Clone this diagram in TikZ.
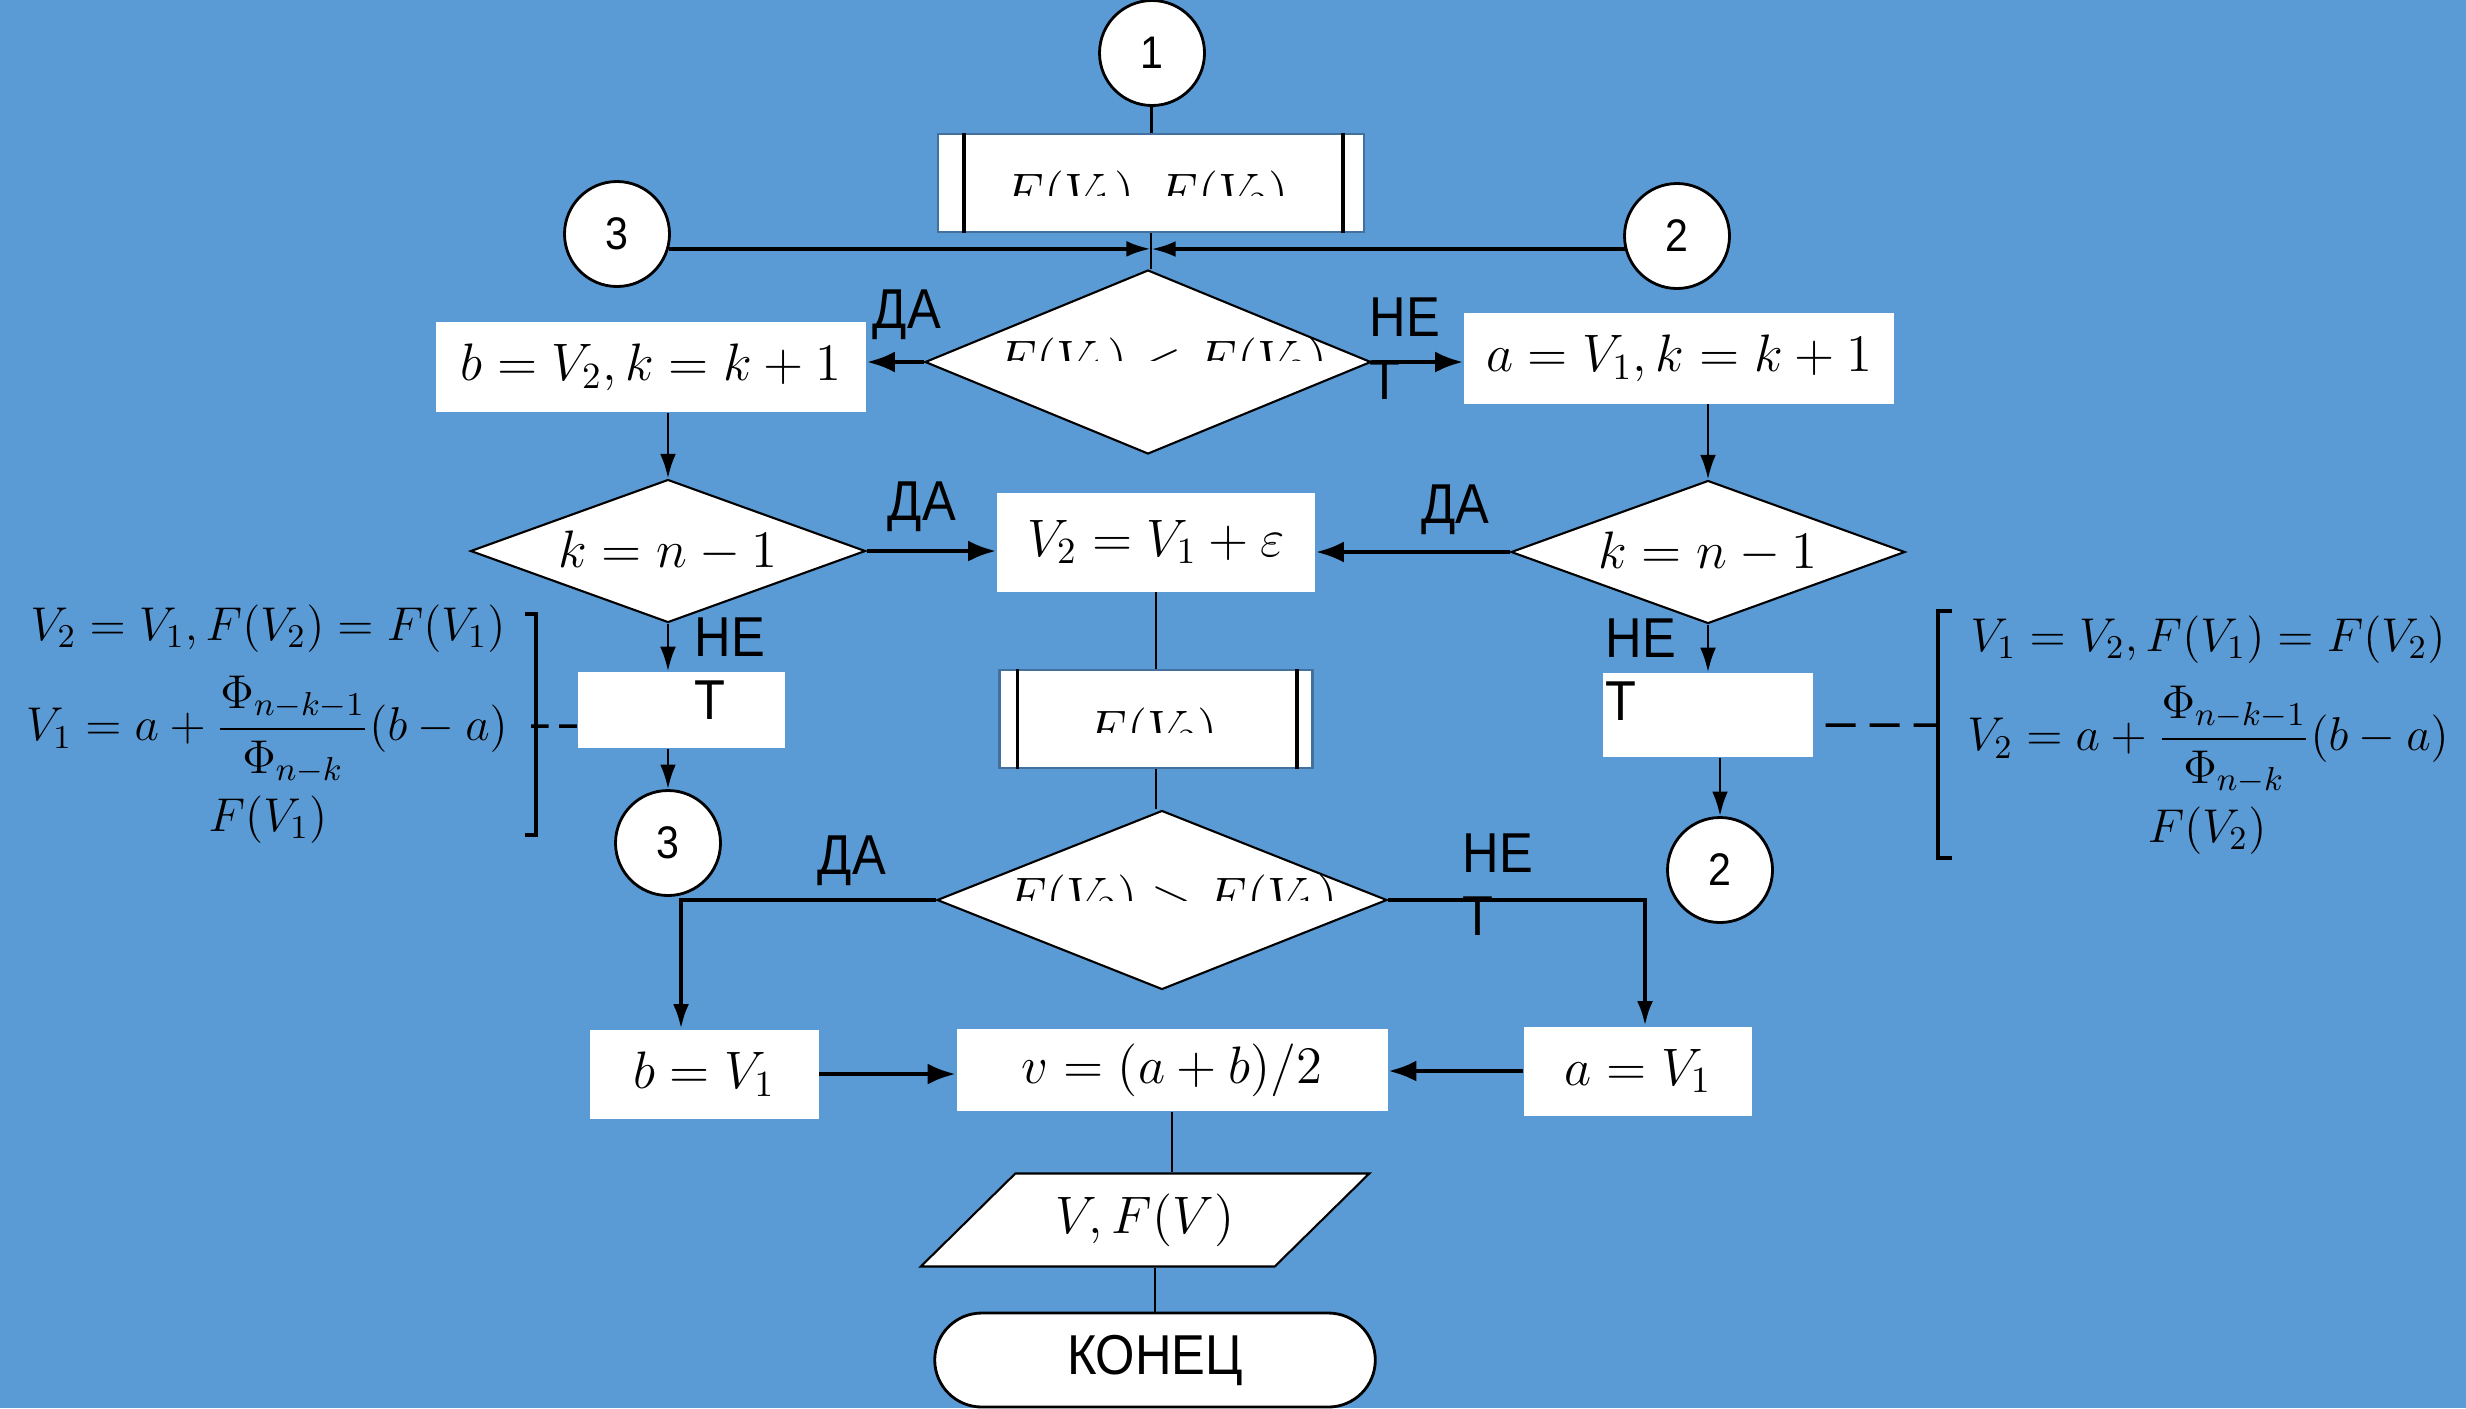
\RequirePackage{fix-cm}
\documentclass[tikz,border=0pt]{standalone}
\usepackage{amsmath}
\usepackage[no-math]{fontspec}
\newfontfamily\lblfont{Liberation Sans}[FakeStretch=0.9]
\usetikzlibrary{arrows.meta, positioning, calc, shapes.geometric, shapes.misc}

\definecolor{slide}{RGB}{91,155,213}
\definecolor{boxedge}{RGB}{65,113,156}
\newcommand{\mathsz}{\fontsize{15}{18}\selectfont}

\begin{document}
\begin{tikzpicture}[
  % ---- styles ----
  block/.style = {rectangle, fill=white, font=\mathsz, inner sep=3pt},
  predef/.style = {rectangle, fill=white, draw=boxedge, line width=0.6pt},
  cond/.style = {diamond, fill=white, draw=black, line width=0.6pt, inner sep=0pt, font=\mathsz},
  conn/.style = {circle, fill=white, draw=black, line width=0.8pt,
    minimum size=1.05cm, inner sep=0pt, font=\lblfont\fontsize{13}{15}\selectfont},
  io/.style = {trapezium, trapezium left angle=46, trapezium right angle=134,
    trapezium stretches=true, fill=white, draw=black, line width=0.6pt, font=\mathsz},
  term/.style = {rounded rectangle, fill=white, draw=black, line width=0.8pt,
    font=\lblfont\fontsize{16}{18}\selectfont},
  bar/.style = {line width=1.1pt},
  wire/.style = {line width=0.8pt},
  arr/.style = {-{Latex[length=7pt,width=4.5pt]}, line width=0.8pt},
  arrthick/.style = {-{Latex[length=8pt,width=6pt]}, line width=1.3pt},
  dashln/.style = {dash pattern=on 5pt off 3pt, line width=1pt},
  lbl/.style = {font=\lblfont\fontsize{16}{18}\selectfont, align=left, inner sep=0pt},
  cut/.style = {font=\mathsz, inner sep=0pt, anchor=base},
  formula/.style = {font=\fontsize{13.5}{16}\selectfont, inner sep=0pt}
]

% background
\fill[slide] (0,0) rectangle (24.66,-14.08);
\useasboundingbox (0,0) rectangle (24.66,-14.08);

% ============ BLOCKS ============

% --- top ---
\node[conn] (c1) at (11.52,-0.53) {1};
\node[predef, minimum width=4.26cm, minimum height=0.98cm] (init) at (11.51,-1.83) {};
\node[conn] (c3a) at (6.17,-2.34) {3};
\node[conn] (c2a) at (16.77,-2.36) {2};
\coordinate (join) at (11.51,-2.49);

% --- first test ---
\node[cond, minimum width=4.46cm, minimum height=1.84cm] (d1) at (11.48,-3.62) {};
\node[block, minimum width=4.30cm, minimum height=0.90cm] (bk) at (6.51,-3.67) {$b = V_2, k = k + 1$};
\node[block, minimum width=4.30cm, minimum height=0.91cm] (ak) at (16.79,-3.58) {$a = V_1, k = k + 1$};

% --- k = n-1 tests ---
\node[cond, shape aspect=2.76, minimum width=3.95cm, minimum height=1.43cm] (d2) at (6.68,-5.51) {$k = n - 1$};
\node[cond, shape aspect=2.76, minimum width=3.94cm, minimum height=1.43cm] (d3) at (17.08,-5.52) {$k = n - 1$};
\node[block, minimum width=3.18cm, minimum height=0.99cm] (eps) at (11.56,-5.42) {$V_2 = V_1 + \varepsilon$};

\node[block, minimum width=2.07cm, minimum height=0.76cm] (tl) at (6.81,-7.10) {};
\node[block, minimum width=2.10cm, minimum height=0.84cm] (tr) at (17.08,-7.15) {};
\node[conn] (c3b) at (6.68,-8.43) {3};
\node[conn] (c2b) at (17.20,-8.70) {2};

% --- final test ---
\node[predef, minimum width=3.13cm, minimum height=0.98cm] (fv2) at (11.56,-7.19) {};
\node[cond, minimum width=4.50cm, minimum height=1.79cm] (d4) at (11.62,-9.00) {};

\node[block, minimum width=2.29cm, minimum height=0.89cm] (bv) at (7.04,-10.74) {$b = V_1$};
\node[block, minimum width=2.28cm, minimum height=0.89cm] (av) at (16.38,-10.71) {$a = V_1$};
\node[block, minimum width=4.31cm, minimum height=0.82cm] (mean) at (11.72,-10.70) {$v = (a + b)/2$};
\node[io, minimum width=4.52cm, minimum height=0.93cm] (out) at (11.45,-12.20) {$V, F(V)$};
\node[term, minimum width=4.64cm, minimum height=0.94cm] (stop) at (11.55,-13.60) {КОНЕЦ};

% double side bars
\draw[bar] ([xshift=2.7mm]init.north west) -- ([xshift=2.7mm]init.south west);
\draw[bar] ([xshift=-2.2mm]init.north east) -- ([xshift=-2.2mm]init.south east);
\draw[bar] ([xshift=1.9mm]fv2.north west) -- ([xshift=1.9mm]fv2.south west);
\draw[bar] ([xshift=-1.7mm]fv2.north east) -- ([xshift=-1.7mm]fv2.south east);

% half-hidden texts
\begin{scope}
  \clip (9,-1.3) rectangle (14,-1.95);
  \node[cut] (inittxt) at (11.46,-2.10) {$F(V_1), F(V_2)$};
\end{scope}
\begin{scope}
  \clip (9,-2.8) rectangle (14,-3.60);
  \node[cut] (d1txt) at (11.62,-3.77) {$F(V_1) < F(V_2)$};
\end{scope}
\begin{scope}
  \clip (10,-6.8) rectangle (13,-7.32);
  \node[cut] (fv2txt) at (11.52,-7.47) {$F(V_2)$};
\end{scope}
\begin{scope}
  \clip (9,-8.2) rectangle (14,-9.00);
  \node[cut] (d4txt) at (11.72,-9.14) {$F(V_2) > F(V_1)$};
\end{scope}

% ============ CONNECTORS ============
\draw[wire] (c1) -- (init);
\draw[wire] (init.south) -- (init.south |- d1.north);
\draw[arr, line width=1.1pt] (c3a.-16) -- (c3a.-16 -| join);
\draw[arr, line width=1.1pt] (c2a.194) -- (c2a.194 -| join);

\draw[arrthick] (d1.west) -- (d1.west -| bk.east);
\draw[arrthick] (d1.east) -- (d1.east -| ak.west);
\draw[arr] (bk.south -| d2.north) -- (d2.north);
\draw[arr] (ak.south -| d3.north) -- (d3.north);
\draw[arrthick] (d2.east) -- (d2.east -| eps.west);
\draw[arrthick] (d3.west) -- (d3.west -| eps.east);

\draw[arr] (d2.south) -- (d2.south |- tl.north);
\draw[arr] (tl.south -| c3b.north) -- (c3b.north);
\draw[arr] (d3.south) -- (d3.south |- tr.north);
\draw[arr] (tr.south -| c2b.north) -- (c2b.north);

\draw[wire] (eps.south) -- (eps.south |- fv2.north);
\draw[wire] (fv2.south) -- (fv2.south |- d4.north);
\draw[arr, line width=1.1pt] (d4.west) -| ([xshift=-2.3mm]bv.north);
\draw[arr, line width=1.1pt] (d4.east) -| ([xshift=0.7mm]av.north);
\draw[arrthick] (bv.east) -- (bv.east -| mean.west);
\draw[arrthick] (av.west) -- (av.west -| mean.east);
\draw[wire] (mean.south) -- (mean.south |- out.north);
\draw[wire] (stop.north |- out.south) -- (stop.north);

% ============ NOTES ============
\coordinate (brl) at (5.24,-7.26);
\coordinate (brr) at (19.38,-7.25);
\draw[wire, line width=1pt] (5.25,-6.14) -- (5.36,-6.14) -- (5.36,-8.35) -- (5.25,-8.35);
\draw[wire, line width=1pt] (19.52,-6.11) -- (19.38,-6.11) -- (19.38,-8.58) -- (19.52,-8.58);
\draw[dashln] ([yshift=-1.6mm]tl.west) -- (brl);
\draw[dashln, dash pattern=on 8.5pt off 4pt] ([xshift=1.2mm,yshift=-1mm]tr.east) -- (brr);

\node[formula] (fl1) at (2.68,-6.29) {$V_2 = V_1, F(V_2) = F(V_1)$};
\node[formula] (fl2) at (2.67,-7.30) {$V_1 = a + \dfrac{\Phi_{n-k-1}}{\Phi_{n-k}}(b - a)$};
\node[formula] (fl3) at (2.68,-8.20) {$F(V_1)$};
\node[formula] (fr1) at (22.08,-6.40) {$V_1 = V_2, F(V_1) = F(V_2)$};
\node[formula] (fr2) at (22.08,-7.40) {$V_2 = a + \dfrac{\Phi_{n-k-1}}{\Phi_{n-k}}(b - a)$};
\node[formula] (fr3) at (22.07,-8.31) {$F(V_2)$};

% ============ LABELS ============
\node[lbl] (yes1) at (9.07,-3.15) {ДА};
\node[lbl] (yes2) at (9.22,-5.07) {ДА};
\node[lbl] (yes3) at (14.55,-5.10) {ДА};
\node[lbl] (yes4) at (8.52,-8.61) {ДА};
\node[lbl, anchor=north west] (no1) at (13.69,-2.97) {НЕ\\Т};
\node[lbl, anchor=north west] (no2) at (6.94,-6.17) {НЕ\\Т};
\node[lbl, anchor=north west] (no3) at (16.05,-6.18) {НЕ\\Т};
\node[lbl, anchor=north west] (no4) at (14.62,-8.33) {НЕ\\Т};

\end{tikzpicture}
\end{document}
